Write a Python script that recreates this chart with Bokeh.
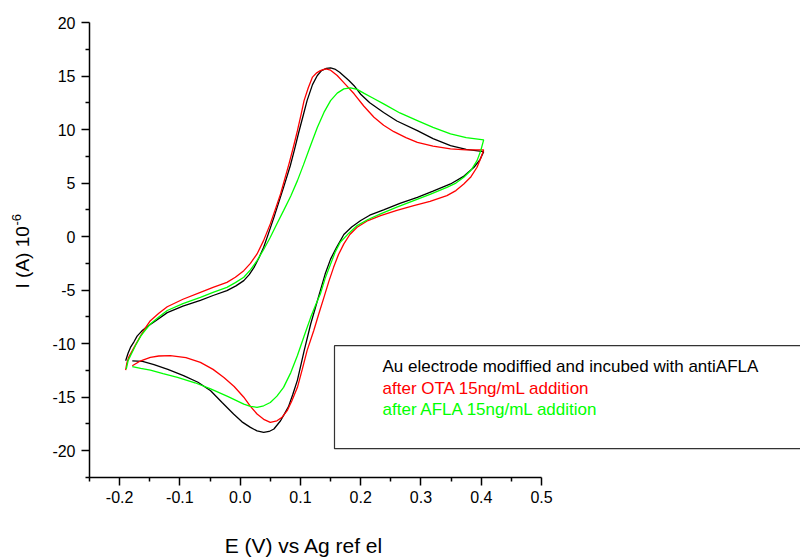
import math
from bokeh.plotting import figure
from bokeh.models import Range1d, FixedTicker, Label, BoxAnnotation, NumeralTickFormatter
from bokeh.embed import file_html
from bokeh.resources import INLINE

# --- data (E in V, I in 1e-6 A) ---
series_names = ["Au electrode modiffied and incubed with antiAFLA",
                "after OTA 15ng/mL addition",
                "after AFLA 15ng/mL addition"]
series_colors = ["#000000", "#ff0000", "#00ff00"]

anti_E = [-0.190, -0.186, -0.182, -0.176, -0.171, -0.163, -0.154, -0.140, -0.121, -0.095,
          -0.066, -0.045, -0.022, -0.007, 0.006, 0.015, 0.023, 0.031, 0.039, 0.047,
          0.056, 0.064, 0.072, 0.083, 0.090, 0.097, 0.104, 0.111, 0.120, 0.128,
          0.135, 0.143, 0.150, 0.157, 0.165, 0.172, 0.180, 0.189, 0.200, 0.215,
          0.238, 0.260, 0.294, 0.320, 0.349, 0.375, 0.404,
          0.398, 0.388, 0.370, 0.349, 0.320, 0.294, 0.265, 0.238, 0.215, 0.200,
          0.185, 0.172, 0.160, 0.150, 0.141, 0.133, 0.125, 0.117, 0.106, 0.095,
          0.087, 0.080, 0.073, 0.067, 0.056, 0.048, 0.039, 0.028, 0.017, 0.003,
          -0.011, -0.030, -0.049, -0.070, -0.094, -0.120, -0.143, -0.162, -0.179]
anti_I = [-11.6, -10.9, -10.35, -9.8, -9.3, -8.8, -8.4, -7.85, -7.1, -6.5,
          -5.95, -5.5, -5.05, -4.6, -4.11, -3.55, -2.87, -2.0, -1.0, 0.3,
          1.8, 3.2, 4.6, 6.6, 8.1, 9.7, 11.2, 12.7, 14.2, 15.05,
          15.5, 15.72, 15.77, 15.65, 15.35, 15.0, 14.6, 14.1, 13.3, 12.5,
          11.6, 10.8, 9.9, 9.15, 8.5, 8.15, 7.94,
          7.2, 6.48, 5.6, 4.92, 4.25, 3.67, 3.1, 2.5, 2.0, 1.5,
          0.9, 0.2, -1.0, -2.1, -3.5, -5.05, -6.6, -8.16, -10.7, -13.4,
          -14.8, -15.9, -16.6, -17.2, -17.97, -18.2, -18.29, -18.15, -17.82, -17.3,
          -16.57, -15.5, -14.39, -13.6, -12.99, -12.4, -11.96, -11.65, -11.6]

ota_E = [-0.190, -0.188, -0.185, -0.176, -0.165, -0.157, -0.149, -0.135, -0.121, -0.095,
         -0.066, -0.045, -0.022, -0.008, 0.006, 0.017, 0.028, 0.039, 0.050, 0.058,
         0.067, 0.074, 0.081, 0.088, 0.095, 0.101, 0.106, 0.113, 0.120, 0.127,
         0.133, 0.142, 0.150, 0.161, 0.175, 0.189, 0.205, 0.222, 0.238, 0.255,
         0.275, 0.294, 0.320, 0.349, 0.375, 0.404,
         0.399, 0.393, 0.383, 0.371, 0.358, 0.343, 0.315, 0.288, 0.260, 0.233,
         0.212, 0.194, 0.182, 0.172, 0.163, 0.155, 0.147, 0.139, 0.130, 0.122,
         0.111, 0.103, 0.095, 0.086, 0.078, 0.069, 0.061, 0.050, 0.040, 0.028,
         0.017, 0.006, -0.010, -0.027, -0.045, -0.066, -0.090, -0.116, -0.135, -0.149,
         -0.165, -0.179]
ota_I = [-12.46, -11.8, -11.28, -10.35, -9.25, -8.5, -7.85, -7.15, -6.55, -5.85,
         -5.2, -4.75, -4.27, -3.8, -3.18, -2.5, -1.62, -0.35, 1.19, 2.5,
         3.99, 5.4, 6.8, 8.3, 9.9, 11.4, 12.7, 13.9, 14.9, 15.3,
         15.5, 15.67, 15.55, 15.05, 14.2, 13.34, 12.2, 11.15, 10.4, 9.8,
         9.25, 8.8, 8.45, 8.2, 8.1, 8.1,
         7.3, 6.48, 5.6, 4.92, 4.3, 3.83, 3.3, 2.9, 2.45, 1.96,
         1.5, 0.87, 0.2, -0.68, -1.7, -2.87, -4.2, -5.67, -7.3, -8.79,
         -10.65, -12.4, -14.08, -15.3, -16.26, -16.9, -17.2, -17.35, -17.1, -16.57,
         -15.85, -15.0, -14.0, -13.15, -12.4, -11.75, -11.3, -11.12, -11.15, -11.28,
         -11.6, -12.06]

afla_E = [-0.189, -0.186, -0.180, -0.173, -0.165, -0.157, -0.149, -0.135, -0.121, -0.095,
          -0.066, -0.045, -0.022, -0.008, 0.006, 0.017, 0.028, 0.039, 0.050, 0.061,
          0.072, 0.084, 0.095, 0.105, 0.116, 0.128, 0.139, 0.150, 0.161, 0.172,
          0.183, 0.194, 0.205, 0.220, 0.238, 0.265, 0.294, 0.320, 0.349, 0.375,
          0.404,
          0.399, 0.393, 0.383, 0.371, 0.358, 0.343, 0.315, 0.288, 0.260, 0.233,
          0.212, 0.194, 0.180, 0.166, 0.158, 0.150, 0.141, 0.133, 0.125, 0.117,
          0.106, 0.095, 0.084, 0.072, 0.061, 0.050, 0.039, 0.028, 0.017, 0.006,
          -0.020, -0.049, -0.075, -0.104, -0.128, -0.149, -0.165, -0.179]
afla_I = [-12.37, -11.6, -10.9, -10.1, -9.3, -8.7, -8.16, -7.5, -6.9, -6.25,
          -5.67, -5.2, -4.74, -4.3, -3.8, -3.1, -2.24, -1.2, -0.06, 1.2,
          2.43, 3.8, 5.23, 6.7, 8.4, 10.2, 11.6, 12.7, 13.4, 13.8,
          13.9, 13.75, 13.4, 12.95, 12.4, 11.55, 10.84, 10.2, 9.6, 9.25,
          9.04,
          8.0, 7.1, 6.2, 5.54, 5.0, 4.6, 3.95, 3.36, 2.75, 2.12,
          1.6, 1.03, 0.3, -0.53, -1.4, -2.55, -3.9, -5.36, -6.4, -7.54,
          -9.3, -11.1, -12.7, -14.08, -14.9, -15.49, -15.8, -15.95, -15.85, -15.64,
          -14.95, -14.23, -13.65, -13.15, -12.8, -12.46, -12.3, -12.15]

x_ticks = [-0.2, -0.1, 0.0, 0.1, 0.2, 0.3, 0.4, 0.5]
x_minor = [-0.25, -0.15, -0.05, 0.05, 0.15, 0.25, 0.35, 0.45]
y_ticks = [-20, -15, -10, -5, 0, 5, 10, 15, 20]
y_minor = [-22.5, -17.5, -12.5, -7.5, -2.5, 2.5, 7.5, 12.5, 17.5]
x_axis_span = (-0.25, 0.5)
y_axis_span = (-22.5, 20)

x_title = "E (V) vs Ag ref el"
y_title_main = "I (A) 10"
y_title_exp = "-6"

FONT = "Liberation Sans"

# the frame covers the whole canvas; axes are pinned at the span start
p = figure(width=800, height=558, output_backend="svg", toolbar_location=None,
           x_range=Range1d(-0.39767, 0.92969), y_range=Range1d(-30.065, 22.055),
           min_border_left=0, min_border_right=0, min_border_top=0, min_border_bottom=0)
p.outline_line_color = None
p.grid.visible = False
p.background_fill_color = "white"
p.border_fill_color = "white"

for ax in (p.xaxis[0], p.yaxis[0]):
    ax.axis_line_color = "black"
    ax.axis_line_width = 1.5
    ax.major_tick_line_color = "black"
    ax.major_tick_line_width = 1.5
    ax.minor_tick_line_color = "black"
    ax.minor_tick_line_width = 1.5
    ax.major_tick_in = 0
    ax.major_tick_out = 8
    ax.minor_tick_in = 0
    ax.minor_tick_out = 4
    ax.major_label_text_font = FONT
    ax.major_label_text_font_size = "16px"
    ax.major_label_text_color = "black"

p.xaxis.fixed_location = y_axis_span[0]
p.xaxis.bounds = x_axis_span
p.xaxis.ticker = FixedTicker(ticks=x_ticks, minor_ticks=x_minor)
p.xaxis.formatter = NumeralTickFormatter(format="0.0")
p.xaxis.major_label_standoff = 5

p.yaxis.fixed_location = x_axis_span[0]
p.yaxis.bounds = y_axis_span
p.yaxis.ticker = FixedTicker(ticks=y_ticks, minor_ticks=y_minor)
p.yaxis.formatter = NumeralTickFormatter(format="0")
p.yaxis.major_label_standoff = 6

for E, I, c in ((anti_E, anti_I, series_colors[0]),
                (ota_E, ota_I, series_colors[1]),
                (afla_E, afla_I, series_colors[2])):
    p.line(E, I, line_color=c, line_width=1.3)

# axis titles
p.add_layout(Label(x=0.1059, y=-28.85, text=x_title, text_align="center",
                   text_baseline="middle", text_font=FONT, text_font_size="21px",
                   text_color="black"))
p.add_layout(Label(x=-0.36117, y=-4.846, text=y_title_main, angle=math.pi / 2,
                   text_align="left", text_baseline="alphabetic", text_font=FONT,
                   text_font_size="19px", text_color="black"))
p.add_layout(Label(x=-0.37112, y=1.04, text=y_title_exp, angle=math.pi / 2,
                   text_align="left", text_baseline="alphabetic", text_font=FONT,
                   text_font_size="13px", text_color="black"))

# legend box with coloured texts
p.add_layout(BoxAnnotation(left=0.1565, right=1.5, top=-10.19, bottom=-19.81,
                           fill_alpha=0, line_color="#333333", line_alpha=1.0,
                           line_width=1.2))
for name, c, yy in zip(series_names, series_colors, [-12.15, -14.16, -16.17]):
    p.add_layout(Label(x=0.2362, y=yy, text=name, text_align="left",
                       text_baseline="middle", text_font=FONT, text_font_size="17px",
                       text_color=c))

open("out.html", "w").write(file_html(p, INLINE))
